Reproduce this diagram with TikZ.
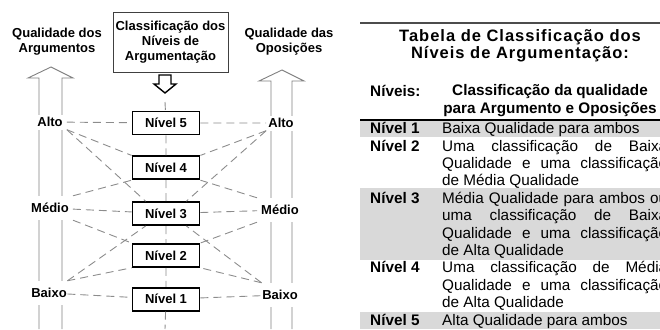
\documentclass[tikz,border=0pt]{standalone}
\usepackage{fontspec}
\setmainfont{Liberation Sans}
\usetikzlibrary{positioning}
\newcommand{\diagfont}{\fontsize{13}{15}\selectfont\bfseries}
\newcommand{\tabfont}{\fontsize{15.3}{17.4}\selectfont\tolerance=10000\hbadness=10000}
\newcommand{\titfont}{\fontsize{16.5}{17}\selectfont\bfseries\addfontfeature{LetterSpace=6}}
\newcommand{\nivel}[1]{Nível #1}
\def\TituloCaixa{Classificação dos\\Níveis de\\Argumentação}
\def\TituloTabela{Tabela de Classificação dos\\Níveis de Argumentação:}
\def\Cabecalho{Classificação da qualidade\\para Argumento e Oposições}
\def\DescUm{Baixa Qualidade para ambos}
\def\DescDois{Uma classificação de Baixa\linebreak Qualidade e uma classificação\linebreak de Média Qualidade}
\def\DescTres{Média Qualidade para ambos ou\linebreak uma classificação de Baixa\linebreak Qualidade e uma classificação\linebreak de Alta Qualidade}
\def\DescQuatro{Uma classificação de Média\linebreak Qualidade e uma classificação\linebreak de Alta Qualidade}
\def\DescCinco{Alta Qualidade para ambos}
\begin{document}
\begin{tikzpicture}[x=1pt, y=-1pt,
                    every node/.style={font=\diagfont},
                    nivelbox/.style={draw, line width=1.8pt, minimum width=67pt, minimum height=23pt, inner sep=0pt},
                    qual/.style={fill=white, inner xsep=4pt, inner ysep=0pt, minimum height=24pt},
                    liga/.style={draw=black!45, line width=0.9pt, dash pattern=on 8pt off 5pt},
                    seta/.style={draw=black!50, line width=0.9pt},
                    faixa/.style={fill=black!15, draw=none},
                    regra/.style={line width=1.2pt},
                    rotulo/.style={font=\tabfont\bfseries, anchor=base west, inner sep=0pt},
                    desc/.style={font=\tabfont, anchor=base west, inner sep=0pt, text width=225pt, align=justify}]
    \useasboundingbox (0,0) rectangle (660,329);

    \node[align=center, inner sep=0pt] (argum) at (57,42) {Qualidade dos\\Argumentos};
    \node[align=center, inner sep=0pt] (opos) at (289,42) {Qualidade das\\Oposições};
    \node[draw=black!75, line width=1pt, align=center, inner sep=0pt,
          minimum width=115pt, minimum height=59pt] (caixa) at (170.5,42.5) {\TituloCaixa};
    \draw[line width=1.4pt, line join=miter] (159,75) -- (159,84) -- (154,84) -- (165,93)
        -- (176,84) -- (171,84) -- (171,75) -- cycle;

    \draw[seta] (39,329) -- (39,78) -- (28,78) -- (51,67) -- (73,78) -- (62,78) -- (62,329);
    \draw[seta] (271,329) -- (271,81) -- (259,81) -- (282,70) -- (304,81) -- (292,81) -- (292,329);

    \node[qual, minimum height=15pt] (altoL) at (50,122) {Alto};
    \node[qual] (medioL) at (50,208) {Médio};
    \node[qual, inner xsep=0.5pt] (baixoL) at (49,293) {Baixo};
    \node[qual, minimum height=15pt, inner xsep=2pt] (altoR) at (281,123) {Alto};
    \node[qual] (medioR) at (280,210) {Médio};
    \node[qual, inner xsep=0.5pt] (baixoR) at (280,295) {Baixo};

    \node[nivelbox] (n5) at (166,123) {\nivel{5}};
    \node[nivelbox, below=20pt of n5] (n4) {\nivel{4}};
    \node[nivelbox, below=21pt of n4] (n3) {\nivel{3}};
    \node[nivelbox, below=17pt of n3] (n2) {\nivel{2}};
    \node[nivelbox, below=19pt of n2] (n1) {\nivel{1}};
    \coordinate (topo) at (165,102);
    \coordinate (fundo) at (165,329);

    \draw[liga] (topo) -- (n5) -- (n4) -- (n3) -- (n2) -- (n1) -- (fundo);
    \draw[liga] (altoL) -- (n5) -- (altoR);
    \draw[liga] (medioL) -- (n3) -- (medioR);
    \draw[liga] (baixoL) -- (n1) -- (baixoR);
    \draw[liga] (altoL.south east) edge (n4.north west) edge ([xshift=14pt]n3.north west);
    \draw[liga] (altoR.south west) edge (n4.north east) edge ([xshift=-14pt]n3.north east);
    \draw[liga] (medioL.north east) edge (n4.south west);
    \draw[liga] (medioL.south east) edge (n2.north west);
    \draw[liga] (medioR.north west) edge (n4.south east);
    \draw[liga] (medioR.south west) edge (n2.north east);
    \draw[liga] (baixoL.north east) edge ([xshift=14pt]n3.south west) edge (n2.south west);
    \draw[liga] (baixoR.north west) edge ([xshift=-14pt]n3.south east) edge (n2.south east);

    \fill[faixa] (360,120) rectangle (660,137);
    \fill[faixa] (360,188) rectangle (660,260);
    \fill[faixa] (360,312) rectangle (660,329);
    \draw[regra, black!70] (360,23) -- (660,23);
    \draw[regra] (360,120) -- (660,120);

    \node[font=\titfont, align=center, inner sep=0pt] (titulo) at (520,45.3) {\TituloTabela};
    \node[rotulo] (hniv) at (370,96) {Níveis:};
    \node[font=\tabfont\bfseries, align=center, inner sep=0pt] (hcla) at (550,100.7) {\Cabecalho};

    \node[rotulo] (r1) at (370,133.5) {\nivel{1}};
    \node[rotulo] (r2) at (370,151) {\nivel{2}};
    \node[rotulo] (r3) at (370,203.2) {\nivel{3}};
    \node[rotulo] (r4) at (370,272.8) {\nivel{4}};
    \node[rotulo] (r5) at (370,325) {\nivel{5}};
    \node[desc] (d1) at (442,133.5) {\DescUm};
    \node[desc] (d2) at (442,151) {\DescDois};
    \node[desc] (d3) at (442,203.2) {\DescTres};
    \node[desc] (d4) at (442,272.8) {\DescQuatro};
    \node[desc] (d5) at (442,325) {\DescCinco};
\end{tikzpicture}
\end{document}
